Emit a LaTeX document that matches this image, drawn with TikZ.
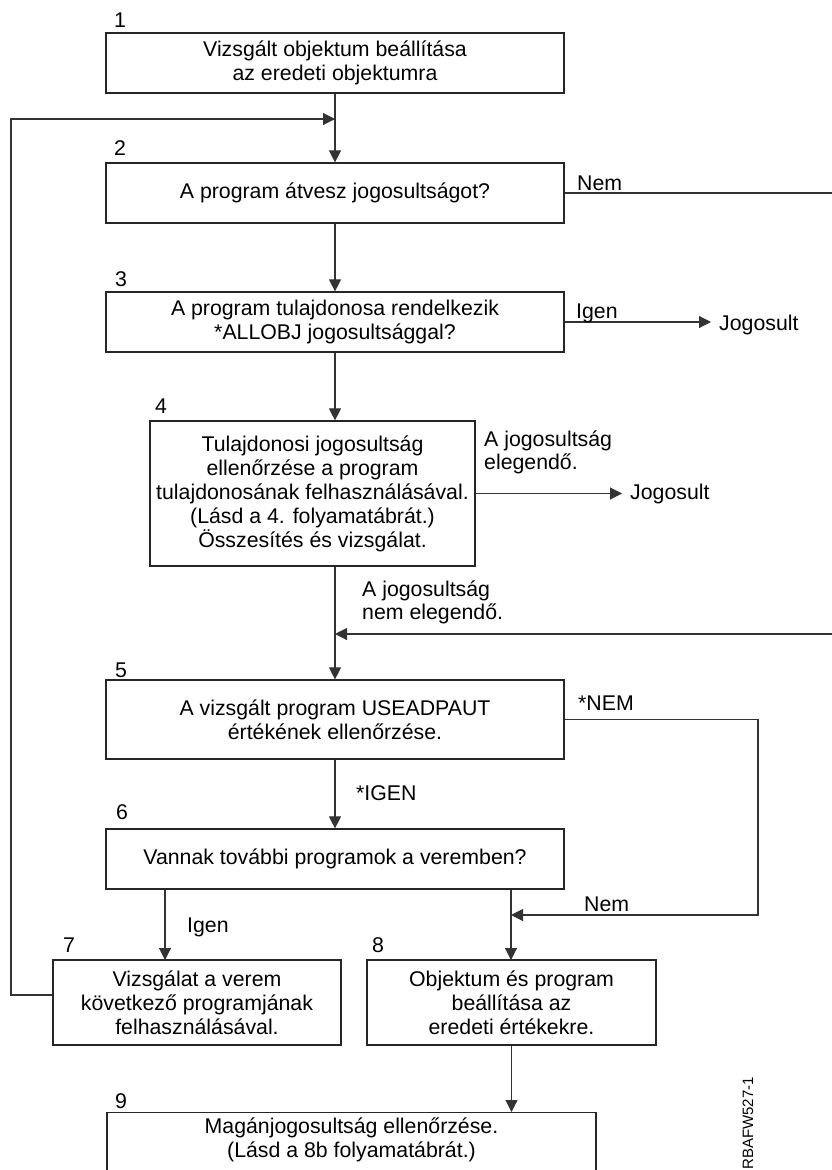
\documentclass[tikz,border=0pt]{standalone}
\usepackage{fontspec}
\setmainfont{Liberation Sans}
\usetikzlibrary{arrows.meta}
\tikzstyle{box}=[rectangle,draw=black!85,line width=1.2,align=center,inner xsep=2pt,font=\fontsize{21.3}{24}\selectfont]
\tikzstyle{num}=[inner sep=0pt,anchor=base west,font=\fontsize{21.3}{24}\selectfont]
\tikzstyle{lbl}=[inner sep=0pt,anchor=base west,font=\fontsize{21.3}{24}\selectfont]
\tikzstyle{twolines}=[inner sep=0pt,anchor=west,align=left,font=\fontsize{21.3}{23}\selectfont]
\tikzstyle{target}=[inner xsep=8pt,inner ysep=0pt,anchor=base west,font=\fontsize{21.3}{24}\selectfont]
\tikzstyle{none}=[inner sep=0pt]
\tikzstyle{inarrow}=[->,>={Triangle[length=12pt,width=12pt]},draw=black!80,line width=1.1]
\pgfdeclarelayer{edgelayer}
\pgfdeclarelayer{nodelayer}
\pgfsetlayers{edgelayer,nodelayer,main}

\begin{document}
\begin{tikzpicture}[x=1pt,y=-1pt]
	\path [use as bounding box] (0,0) rectangle (832,1170);
	\begin{pgfonlayer}{nodelayer}
		\clip (0,0) rectangle (832,1170);
		\node [style=box, minimum width=458, minimum height=60] (box1) at (335,63) {Vizsgált objektum beállítása\\az eredeti objektumra};
		\node [style=num] (n1) at (114,27) {1};
		\node [style=box, minimum width=458, minimum height=60] (box2) at (335,193) {A program átvesz jogosultságot?};
		\node [style=num] (n2) at (114,155) {2};
		\node [style=box, minimum width=458, minimum height=60] (box3) at (335,322) {A program tulajdonosa rendelkezik\\*ALLOBJ jogosultsággal?};
		\node [style=num] (n3) at (115,286) {3};
		\node [style=box, minimum width=325, minimum height=145] (box4) at (312.5,493.5) {Tulajdonosi jogosultság\\ellenőrzése a program\\tulajdonosának felhasználásával.\\(Lásd a 4. folyamatábrát.)\\Összesítés és vizsgálat.};
		\node [style=num] (n4) at (155,413) {4};
		\node [style=box, minimum width=458, minimum height=79] (box5) at (335,719.5) {A vizsgált program USEADPAUT\\értékének ellenőrzése.};
		\node [style=num] (n5) at (115,677) {5};
		\node [style=box, minimum width=458, minimum height=60] (box6) at (335,859) {Vannak további programok a veremben?};
		\node [style=num] (n6) at (116,819) {6};
		\node [style=box, minimum width=288, minimum height=85] (box7) at (197,1002.5) {Vizsgálat a verem\\következő programjának\\felhasználásával.};
		\node [style=num] (n7) at (63,952) {7};
		\node [style=box, minimum width=289, minimum height=85] (box8) at (511.5,1002.5) {Objektum és program\\beállítása az\\eredeti értékekre.};
		\node [style=num] (n8) at (372,952) {8};
		\node [style=box, minimum width=489, anchor=north, inner ysep=5pt, text depth=70pt] (box9) at (351.5,1112) {Magánjogosultság ellenőrzése.\\(Lásd a 8b folyamatábrát.)};
		\node [style=num] (n9) at (115,1108) {9};
		% answers on the connectors
		\node [style=lbl] (nem1) at (577,190) {Nem};
		\node [style=lbl] (igen1) at (576,318) {Igen};
		\node [style=target] (jog1) at (711,330) {Jogosult};
		\node [style=twolines] (enough) at (484,452) {A jogosultság\\elegendő.};
		\node [style=target] (jog2) at (622,499) {Jogosult};
		\node [style=twolines] (notenough) at (362,602) {A jogosultság\\nem elegendő.};
		\node [style=lbl] (nemstar) at (578,710) {*NEM};
		\node [style=lbl] (igenstar) at (356,800) {*IGEN};
		\node [style=lbl] (igen2) at (187,932) {Igen};
		\node [style=lbl] (nem2) at (584,911) {Nem};
		\node [rotate=90, anchor=east, inner sep=0pt, font=\fontsize{15}{16}\selectfont] (code) at (748,1077) {RBAFW527-1};
		% corners and joins
		\node [style=none] (j1) at (335,119) {};
		\node [style=none] (fbTop) at (11,119) {};
		\node [style=none] (fbBot) at (11,995) {};
		\node [style=none] (nemOut) at (845,193) {};
		\node [style=none] (nemIn) at (845,634) {};
		\node [style=none] (j2) at (335,634) {};
		\node [style=none] (c5a) at (758,719.5) {};
		\node [style=none] (c5b) at (758,915) {};
		\node [style=none] (j3) at (511,915) {};
		\node [style=none] (l6) at (165,889) {};
		\node [style=none] (l7) at (165,960) {};
		\node [style=none] (r6) at (511,889) {};
		\node [style=none] (r8) at (511,960) {};
	\end{pgfonlayer}
	\begin{pgfonlayer}{edgelayer}
		\clip (0,0) rectangle (832,1170);
		\draw [style=inarrow] (box1) to (box2);
		\draw [style=inarrow] (box2) to (box3);
		\draw [style=inarrow] (box3.south) to (box3.south |- box4.north);
		\draw [style=inarrow] (box3.east) to (box3.east -| jog1.west);
		\draw [style=inarrow] (box4.east) to (box4.east -| jog2.west);
		\draw [style=inarrow] (box4.south -| box5.north) to (box5.north);
		\draw [style=inarrow] (box5) to (box6);
		\draw [style=inarrow] (l6.center) to (l7.center);
		\draw [style=inarrow] (r6.center) to (r8.center);
		\draw [style=inarrow] (box8.south) to (box8.south |- box9.north);
		\draw [style=inarrow] (box2.east) -- (nemOut.center) -- (nemIn.center) -- (j2.center);
		\draw [style=inarrow] (box5.east) -- (c5a.center) -- (c5b.center) -- (j3.center);
		\draw [style=inarrow] (box7.west |- fbBot) -- (fbBot.center) -- (fbTop.center) -- (j1.center);
	\end{pgfonlayer}
\end{tikzpicture}
\end{document}
